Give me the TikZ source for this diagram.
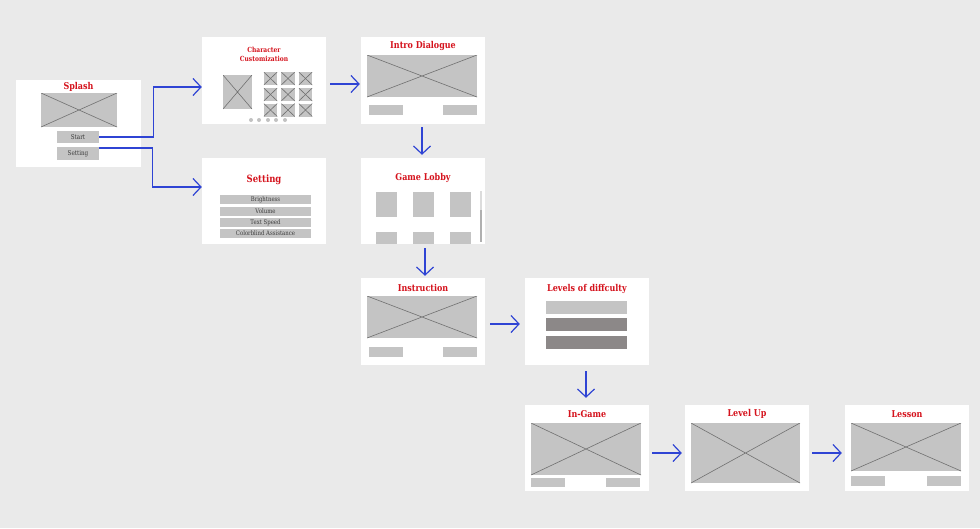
\documentclass[tikz,border=0pt]{standalone}
\usepackage{fontspec}
\setmainfont{DejaVu Serif}[FakeStretch=0.85]
\usetikzlibrary{positioning,arrows.meta}
\definecolor{canvas}{HTML}{EAEAEA}
\definecolor{phgray}{HTML}{C4C4C4}
\definecolor{bardark}{HTML}{8C8888}
\definecolor{crossgray}{HTML}{707070}
\definecolor{titlered}{HTML}{D5121C}
\definecolor{flowblue}{HTML}{2F44D4}
\definecolor{btntext}{HTML}{3A3A3A}
\definecolor{dotgray}{HTML}{C2C2C2}
\begin{document}
\begin{tikzpicture}[x=1pt, y=-1pt,
    screen/.style={fill=white, minimum width=124, minimum height=87, inner sep=0},
    ttl/.style={text=titlered, font=\bfseries\fontsize{9.4}{10}\selectfont, inner sep=0},
    ph/.style={fill=phgray, inner sep=0, path picture={\draw[crossgray, line width=0.6pt]
        (path picture bounding box.north west) -- (path picture bounding box.south east)
        (path picture bounding box.south west) -- (path picture bounding box.north east);}},
    blk/.style={fill=phgray, inner sep=0},
    btn/.style={blk, text=btntext, font=\fontsize{6.6}{7}\selectfont},
    menu/.style={btn, minimum width=91, minimum height=9, font=\fontsize{6.3}{7}\selectfont},
    flow/.style={draw=flowblue, line width=1.2pt, -{Straight Barb[length=8pt,width=17pt]}, shorten <=4pt, shorten >=2pt}]
    \fill[canvas] (0,0) rectangle (980,528); %
    % screens
    \node[screen, minimum width=125] (splash) at (78.5,123.5) {}; %
    \node[screen] (charcust) at (264,80.5) {}; %
    \node[screen, minimum height=86] (settings) at (264,201) {}; %
    \node[screen] (intro) at (423,80.5) {}; %
    \node[screen, minimum height=86] (lobby) at (423,201) {}; %
    \node[screen] (instr) at (423,321.5) {}; %
    \node[screen] (levels) at (587,321.5) {}; %
    \node[screen, minimum height=86] (ingame) at (587,448) {}; %
    \node[screen, minimum height=86] (levelup) at (747,448) {}; %
    \node[screen, minimum height=86] (lesson) at (907,448) {}; %
    % titles
    \node[ttl] (splashttl) at (78.5,87) {Splash}; %
    \node[ttl, font=\bfseries\fontsize{7}{8.8}\selectfont, align=center] (charttl) at (264,54.5) {Character\\Customization}; %
    \node[ttl, font=\bfseries\fontsize{10}{11}\selectfont] (setttl) at (264,180) {Setting}; %
    \node[ttl] (introttl) at (423,46) {Intro Dialogue}; %
    \node[ttl] (lobbyttl) at (423,178) {Game Lobby}; %
    \node[ttl] (instrttl) at (423,288) {Instruction}; %
    \node[ttl] (levelsttl) at (587,289) {Levels of diffculty}; %
    \node[ttl] (ingamettl) at (587,414) {In-Game}; %
    \node[ttl] (levelupttl) at (747,414) {Level Up}; %
    \node[ttl] (lessonttl) at (907,414) {Lesson}; %
    % splash
    \node[ph, minimum width=76, minimum height=34] (splashimg) at (79,110) {}; %
    \node[btn, minimum width=42, minimum height=12] (startbtn) at (78,137) {Start}; %
    \node[btn, minimum width=42, minimum height=13] (setbtn) at (78,153.5) {Setting}; %
    % character customization
    \node[ph, minimum width=29, minimum height=34] (avatar) at (237.5,92) {}; %
    \foreach \x [count=\i] in {270.5,288,305.5}
        \foreach \y [count=\j] in {78.5,94.5,110}
            \node[ph, minimum width=13.5, minimum height=13] (item\i\j) at (\x,\y) {}; %
    \foreach \x in {251,259,268,276,285}
        \fill[dotgray] (\x,120) circle (2); %
    % setting
    \node[menu] (bright) at (265.5,199.5) {Brightness}; %
    \node[menu] (volume) at (265.5,211.5) {Volume}; %
    \node[menu] (speed) at (265.5,222.5) {Text Speed}; %
    \node[menu] (color) at (265.5,233.5) {Colorblind Assistance}; %
    % intro dialogue
    \node[ph, minimum width=110, minimum height=42] (introimg) at (422,76) {}; %
    \node[blk, minimum width=34, minimum height=10] (introback) at (386,110) {}; %
    \node[blk, minimum width=34, minimum height=10] (intronext) at (460,110) {}; %
    % game lobby
    \foreach \x [count=\i] in {386.5,423,460} {
        \node[blk, minimum width=21, minimum height=25] (game\i) at (\x,204.5) {}; %
        \node[blk, minimum width=21, minimum height=12] (more\i) at (\x,238) {}; %
    }
    \draw[phgray!60, line width=1.2pt] (481,191) -- (481,242); %
    \draw[phgray!90!black, line width=1.2pt] (481,210) -- (481,242); %
    % instruction
    \node[ph, minimum width=110, minimum height=42] (instrimg) at (422,317) {}; %
    \node[blk, minimum width=34, minimum height=10] (instrback) at (386,352) {}; %
    \node[blk, minimum width=34, minimum height=10] (instrnext) at (460,352) {}; %
    % levels of difficulty
    \node[blk, minimum width=81, minimum height=13] (easy) at (586.5,307) {}; %
    \node[blk, fill=bardark, minimum width=81, minimum height=13] (medium) at (586.5,324.5) {}; %
    \node[blk, fill=bardark, minimum width=81, minimum height=13] (hard) at (586.5,342.5) {}; %
    % in-game, level up, lesson
    \node[ph, minimum width=110, minimum height=52] (ingameimg) at (586,449) {}; %
    \node[blk, minimum width=34, minimum height=9] (ingameback) at (548,482.5) {}; %
    \node[blk, minimum width=34, minimum height=9] (ingamenext) at (623,482.5) {}; %
    \node[ph, minimum width=109, minimum height=60] (levelupimg) at (745.5,453) {}; %
    \node[ph, minimum width=110, minimum height=48] (lessonimg) at (906,447) {}; %
    \node[blk, minimum width=34, minimum height=10] (lessonback) at (868,481) {}; %
    \node[blk, minimum width=34, minimum height=10] (lessonnext) at (944,481) {}; %
    % flow
    \draw[flow, shorten <=0pt, shorten >=0pt] (startbtn.east) -- ++(54,0) |- ([yshift=-6.5]charcust.west); %
    \draw[flow, shorten <=0pt, shorten >=0pt] ([yshift=5.5]setbtn.east) -- ++(53,0) |- ([yshift=14]settings.west); %
    \draw[flow, shorten >=1pt] ([yshift=-3.5]charcust.east) -- ([yshift=-3.5]intro.west); %
    \draw[flow, shorten <=3pt, shorten >=3pt] ([xshift=-1]intro.south) -- ([xshift=-1]lobby.north); %
    \draw[flow, shorten >=2pt] ([xshift=2]lobby.south) -- ([xshift=2]instr.north); %
    \draw[flow, shorten <=5pt, shorten >=5pt] ([yshift=-2.5]instr.east) -- ([yshift=-2.5]levels.west); %
    \draw[flow, shorten <=6pt, shorten >=7pt] ([xshift=-1]levels.south) -- ([xshift=-1]ingame.north); %
    \draw[flow, shorten <=3pt, shorten >=3pt] ([yshift=-5]ingame.east) -- ([yshift=-5]levelup.west); %
    \draw[flow, shorten <=3pt, shorten >=3pt] ([yshift=-5]levelup.east) -- ([yshift=-5]lesson.west); %
\end{tikzpicture}
\end{document}
